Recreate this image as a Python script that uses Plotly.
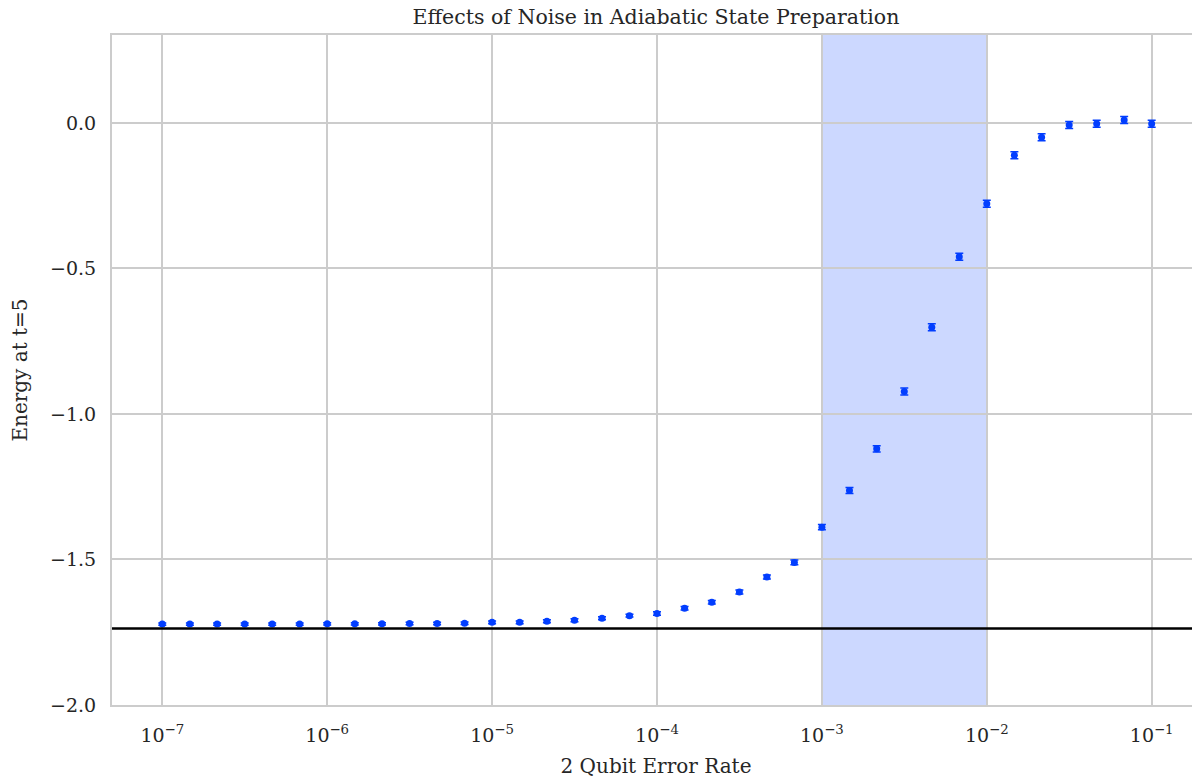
import plotly.graph_objects as go

# Two-qubit error rates (log-spaced, 6 per decade)
error_rate = [
    1.00e-7, 1.47e-7, 2.15e-7, 3.16e-7, 4.64e-7, 6.81e-7,
    1.00e-6, 1.47e-6, 2.15e-6, 3.16e-6, 4.64e-6, 6.81e-6,
    1.00e-5, 1.47e-5, 2.15e-5, 3.16e-5, 4.64e-5, 6.81e-5,
    1.00e-4, 1.47e-4, 2.15e-4, 3.16e-4, 4.64e-4, 6.81e-4,
    1.00e-3, 1.47e-3, 2.15e-3, 3.16e-3, 4.64e-3, 6.81e-3,
    1.00e-2, 1.47e-2, 2.15e-2, 3.16e-2, 4.64e-2, 6.81e-2,
    1.00e-1,
]

energy = [
    -1.722, -1.722, -1.722, -1.722, -1.722, -1.722,
    -1.721, -1.721, -1.721, -1.720, -1.720, -1.719,
    -1.716, -1.716, -1.712, -1.709, -1.702, -1.693,
    -1.686, -1.668, -1.647, -1.612, -1.560, -1.510,
    -1.389, -1.263, -1.120, -0.923, -0.702, -0.460,
    -0.278, -0.111, -0.049, -0.007, -0.003, 0.010,
    -0.003,
]

energy_err = [
    0.004, 0.004, 0.004, 0.004, 0.004, 0.004,
    0.004, 0.004, 0.004, 0.004, 0.004, 0.004,
    0.005, 0.005, 0.005, 0.005, 0.005, 0.005,
    0.006, 0.006, 0.006, 0.007, 0.007, 0.008,
    0.009, 0.010, 0.011, 0.012, 0.012, 0.012,
    0.012, 0.012, 0.012, 0.012, 0.012, 0.012,
    0.012,
]

ground_energy = -1.737
band_lo, band_hi = 1e-3, 1e-2

x_tick_vals = [1e-7, 1e-6, 1e-5, 1e-4, 1e-3, 1e-2, 1e-1]
x_tick_text = ["10<sup>−7</sup>", "10<sup>−6</sup>", "10<sup>−5</sup>", "10<sup>−4</sup>",
               "10<sup>−3</sup>", "10<sup>−2</sup>", "10<sup>−1</sup>"]
y_tick_vals = [-2.0, -1.5, -1.0, -0.5, 0.0]

BLUE = "#023eff"
GRID = "#cccccc"
FONT = "DejaVu Serif"
TXT = "#262626"

fig = go.Figure()
fig.add_trace(go.Scatter(
    x=error_rate, y=energy,
    mode="markers",
    marker=dict(color=BLUE, size=7, line=dict(width=0)),
    error_y=dict(type="data", array=energy_err, color=BLUE, thickness=1.5, width=4),
    showlegend=False,
))

fig.add_shape(type="rect", xref="x", yref="paper", x0=band_lo, x1=band_hi, y0=0, y1=1,
              fillcolor="rgba(2,62,255,0.2)", line=dict(width=0), layer="between")
fig.add_shape(type="line", xref="paper", yref="y", x0=0, x1=1, y0=ground_energy, y1=ground_energy,
              line=dict(color="black", width=2.5), layer="above")

# page body adds an 8px offset, so margins are compensated
fig.update_layout(
    width=1200, height=784,
    margin=dict(l=104, r=8, t=27, b=87, autoexpand=False),
    paper_bgcolor="white", plot_bgcolor="white",
    font=dict(family=FONT, size=19, color=TXT),
    title=dict(text="Effects of Noise in Adiabatic State Preparation", x=0.5, xref="paper",
               xanchor="center", y=1, yref="container", yanchor="top",
               pad=dict(t=2, b=0),
               font=dict(family=FONT, size=20.5, color=TXT)),
)
fig.update_xaxes(
    type="log", range=[-7.305, -0.707], automargin=False,
    tickvals=x_tick_vals, ticktext=x_tick_text,
    showgrid=True, gridcolor=GRID, gridwidth=1.5,
    showline=True, linecolor=GRID, linewidth=2, mirror=True,
    ticks="", ticklabelstandoff=12, zeroline=False,
    tickfont=dict(family=FONT, size=19, color=TXT),
    title=dict(text="2 Qubit Error Rate", standoff=14, font=dict(family=FONT, size=20, color=TXT)),
)
fig.update_yaxes(
    range=[-2.0, 0.302], automargin=False,
    tickvals=y_tick_vals, tickformat=".1f",
    showgrid=True, gridcolor=GRID, gridwidth=1.5,
    showline=True, linecolor=GRID, linewidth=2, mirror=False,
    ticks="", ticklabelstandoff=10, zeroline=False,
    tickfont=dict(family=FONT, size=19, color=TXT),
    title=dict(text="Energy at t=5", standoff=18, font=dict(family=FONT, size=20, color=TXT)),
)

fig.write_html("out.html")
